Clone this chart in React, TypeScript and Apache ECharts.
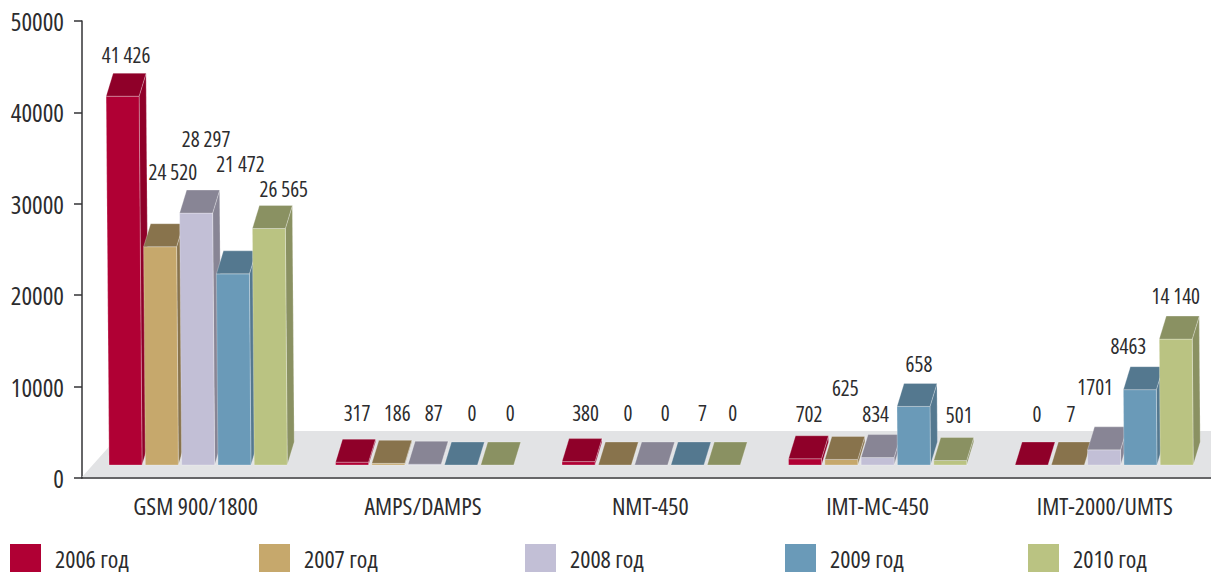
import React, { useEffect, useRef } from "react";
import * as echarts from "echarts";

const categories = ["GSM 900/1800", "AMPS/DAMPS", "NMT-450", "IMT-MC-450", "IMT-2000/UMTS"];
const years = ["2006 год", "2007 год", "2008 год", "2009 год", "2010 год"];

const bars2006 = [41426, 317, 380, 702, 0];
const bars2007 = [24520, 186, 0, 625, 7];
const bars2008 = [28297, 87, 0, 834, 1701];
const bars2009 = [21472, 0, 7, 6580, 8463];
const bars2010 = [26565, 0, 0, 501, 14140];

const labels2006 = ["41 426", "317", "380", "702", "0"];
const labels2007 = ["24 520", "186", "0", "625", "7"];
const labels2008 = ["28 297", "87", "0", "834", "1701"];
const labels2009 = ["21 472", "0", "7", "658", "8463"];
const labels2010 = ["26 565", "0", "0", "501", "14 140"];

const yearBars = [bars2006, bars2007, bars2008, bars2009, bars2010];
const yearLabels = [labels2006, labels2007, labels2008, labels2009, labels2010];

const frontColors = ["#b00034", "#c6a86c", "#c2bfd6", "#6a9ab8", "#bac382"];
const darkColors = ["#8f0029", "#88734c", "#888595", "#54788f", "#8a9162"];

// per-label nudges [dx, dy] away from the default spot over the bar
const nudges = [
  [[-6.5, -1], [-2, -9], [0, -9], [-3, -5], [-1.5, -11]],
  [[4, -35], [2, -10], [6, -12], [-3, -31], [-4, -11]],
  [[1, -34], [2, -11], [7, -12], [-9, -4], [-16, -23]],
  [[-1, -70], [4, -12], [8, -12], [-2, -2], [-19, -4]],
  [[6, 0], [6, -12], [2, -12], [2, -6], [-8, -3]],
];

const legendLeft = [10, 259, 525, 785, 1028];

const FONT = '"Open Sans", "Liberation Sans", sans-serif';
const TEXT = "#2c2c2e";
const BAR_W = 33;
const PITCH = 36.3;
const DX = 7;
const DY = 23;
const LIFT = 13;
const SCALE = 0.974;

export default function App() {
  const ref = useRef<HTMLDivElement>(null);
  useEffect(() => {
    const chart = echarts.init(ref.current!, undefined, { renderer: "svg" });

    const barSeries = yearBars.map((values, k) => ({
      type: "custom",
      name: years[k],
      z: 3,
      clip: false,
      itemStyle: { color: frontColors[k] },
      encode: { x: 0, y: 1 },
      data: values.map((v, i) => [i, v]),
      renderItem: (_p: any, api: any) => {
        const cat = api.value(0);
        const v = api.value(1);
        const [cx, y0] = api.coord([cat, 0]);
        const h = api.size([0, v])[1] * SCALE;
        const base = y0 - LIFT;
        const x = cx - 86.6 - 0.8 * cat + PITCH * k;
        const lean = h * 0.008;
        const top = base - h;
        const edge = { stroke: "rgba(255,255,255,0.45)", lineWidth: 0.6 };
        const children: any[] = [];
        if (h > 0.4) {
          children.push({
            type: "polygon",
            shape: {
              points: [
                [x + BAR_W, base],
                [x + BAR_W - lean, top],
                [x + BAR_W - lean + DX, top - DY],
                [x + BAR_W + DX, base - DY],
              ],
            },
            style: { fill: darkColors[k], ...edge },
          });
          children.push({
            type: "polygon",
            shape: {
              points: [
                [x, base],
                [x - lean, top],
                [x + BAR_W - lean, top],
                [x + BAR_W, base],
              ],
            },
            style: { fill: frontColors[k], ...edge },
          });
        }
        children.push({
          type: "polygon",
          shape: {
            points: [
              [x - lean, top],
              [x - lean + DX, top - DY],
              [x + BAR_W - lean + DX, top - DY],
              [x + BAR_W - lean, top],
            ],
          },
          style: { fill: darkColors[k], ...edge },
        });
        const [nx, ny] = nudges[k][cat];
        children.push({
          type: "text",
          z2: 20,
          style: {
            text: yearLabels[k][cat],
            x: x + BAR_W / 2 + DX + nx,
            y: base - h - DY - 17 + ny,
            align: "center",
            verticalAlign: "middle",
            fill: TEXT,
            font: `21px ${FONT}`,
          },
        });
        return { type: "group", children };
      },
    }));

    const floorSeries = {
      type: "custom",
      name: "floor",
      z: 1,
      clip: false,
      silent: true,
      encode: { x: 0, y: 1 },
      data: [[0, 0]],
      renderItem: (p: any, api: any) => {
        const [, y0] = api.coord([0, 0]);
        const left = p.coordSys.x;
        const right = 1211;
        return {
          type: "polygon",
          shape: {
            points: [
              [left, y0 - 1],
              [left + 41, y0 - 47],
              [right, y0 - 47],
              [right, y0 - 1],
            ],
          },
          style: { fill: "#e2e3e5" },
        };
      },
    };

    chart.setOption({
      animation: false,
      backgroundColor: "#ffffff",
      grid: { left: 82, top: 21, right: -7.5, bottom: 94, containLabel: false, outerBoundsMode: "none" },
      xAxis: {
        type: "category",
        data: categories,
        boundaryGap: true,
        axisLine: { lineStyle: { color: "#333336", width: 1.5 } },
        axisTick: { length: 8, lineStyle: { color: "#333336", width: 1.5 } },
        axisLabel: { color: TEXT, fontFamily: FONT, fontSize: 24, margin: 15, interval: 0, hideOverlap: false },
      },
      yAxis: {
        type: "value",
        min: 0,
        max: 50000,
        interval: 10000,
        splitLine: { show: false },
        axisLine: { show: true, lineStyle: { color: "#333336", width: 1.5 } },
        axisTick: { show: true, length: 8, lineStyle: { color: "#333336", width: 1.5 } },
        axisLabel: { color: TEXT, fontFamily: FONT, fontSize: 25, margin: 18, formatter: (v: number) => String(v) },
      },
      legend: years.map((y, i) => ({
        data: [y],
        left: legendLeft[i],
        top: 544,
        padding: 0,
        itemWidth: 31,
        itemHeight: 28,
        icon: "rect",
        selectedMode: false,
        textStyle: { color: TEXT, fontFamily: FONT, fontSize: 24, lineHeight: 20, padding: [6, 0, 0, 9] },
      })),
      series: [floorSeries, ...barSeries],
    });
    return () => chart.dispose();
  }, []);
  return (
    <>
      <style>{`svg text { font-stretch: 75% !important; font-weight: 400 !important; }`}</style>
      <div
        ref={ref}
        style={{ position: "absolute", left: 0, top: 0, width: 1211, height: 572, overflow: "hidden" }}
      />
    </>
  );
}
